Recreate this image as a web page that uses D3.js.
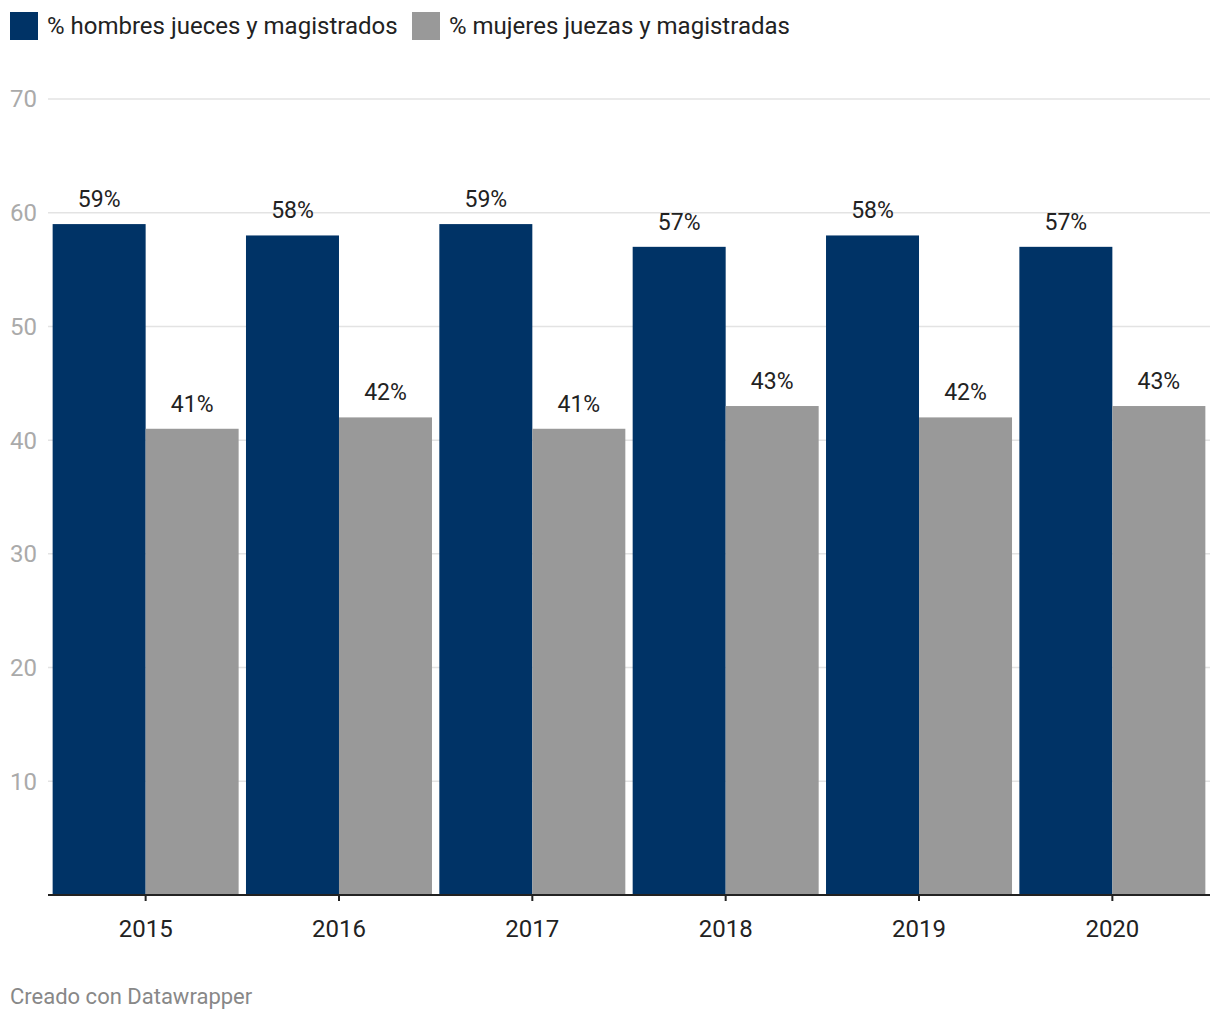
<!DOCTYPE html>
<html><head><meta charset="utf-8">
<script src="https://cdn.jsdelivr.net/npm/d3@7"></script>
<style>body{margin:0;background:#fff;font-family:Roboto,"Noto Sans",sans-serif;}</style>
</head><body>
<svg id="c" width="1220" height="1020"></svg>
<script>
const years = ["2015","2016","2017","2018","2019","2020"];
const seriesNames = ["% hombres jueces y magistrados","% mujeres juezas y magistradas"];
const hombres = [59,58,59,57,58,57];
const mujeres = [41,42,41,43,42,43];
const yTicks = [10,20,30,40,50,60,70];
const colors = ["#003366","#999999"];

const svg = d3.select("#c");
const mLeft = 48, mRight = 1210, mTop = 99, mBottom = 895;

const x0 = d3.scaleBand().domain(years).range([mLeft,mRight]).paddingInner(0.038).paddingOuter(0.024);
const x1 = d3.scaleBand().domain([0,1]).range([0,x0.bandwidth()]);
const y = d3.scaleLinear().domain([0,70]).range([mBottom,mTop]);

// gridlines
const grid = svg.append("g");
grid.selectAll("line").data(yTicks).join("line")
  .attr("x1",mLeft).attr("x2",mRight)
  .attr("y1",d=>y(d)).attr("y2",d=>y(d))
  .attr("stroke","#e3e3e3").attr("stroke-width",1.5);
grid.selectAll("text").data(yTicks).join("text")
  .attr("x",10).attr("y",d=>y(d)).attr("dy","0.35em")
  .attr("fill","#aaaaaa").attr("font-size",24).text(d=>d);

// bars
const data = years.map((yr,i)=>({yr, vals:[hombres[i],mujeres[i]]}));
const g = svg.append("g");
const groups = g.selectAll("g").data(data).join("g").attr("transform",d=>`translate(${x0(d.yr)},0)`);
groups.selectAll("rect").data(d=>d.vals.map((v,k)=>({v,k}))).join("rect")
  .attr("x",d=>x1(d.k)).attr("width",x1.bandwidth())
  .attr("y",d=>y(d.v)).attr("height",d=>y(0)-y(d.v))
  .attr("fill",d=>colors[d.k]);
groups.selectAll("text").data(d=>d.vals.map((v,k)=>({v,k}))).join("text")
  .attr("x",d=>x1(d.k)+x1.bandwidth()/2).attr("y",d=>y(d.v)-17)
  .attr("text-anchor","middle").attr("font-size",23).attr("fill","#222")
  .text(d=>d.v+"%");

// x axis
const xa = svg.append("g").attr("transform",`translate(0,${mBottom})`)
  .call(d3.axisBottom(x0).tickSize(6).tickSizeOuter(0).tickPadding(19));
xa.select(".domain").attr("stroke","#222").attr("stroke-width",2).attr("d",`M${mLeft},0H${mRight}`);
xa.selectAll(".tick line").attr("stroke","#222").attr("stroke-width",2)
  .attr("transform",`translate(${-x0.bandwidth()/2+x1(1)},0)`);
xa.selectAll(".tick text").attr("font-size",24).attr("fill","#222").attr("font-family","Roboto")
  .attr("transform",`translate(${-x0.bandwidth()/2+x1(1)},0)`);

// legend
const leg = svg.append("g");
const legX = [10,412];
seriesNames.forEach((n,i)=>{
  leg.append("rect").attr("x",legX[i]).attr("y",12).attr("width",28).attr("height",28).attr("fill",colors[i]);
  leg.append("text").attr("x",legX[i]+37).attr("y",26).attr("dy","0.35em")
    .attr("font-size",24).attr("fill","#222").text(n);
});

// footer
svg.append("text").attr("x",10).attr("y",1004).attr("font-size",22).attr("fill","#888").text("Creado con Datawrapper");
</script>
</body></html>
